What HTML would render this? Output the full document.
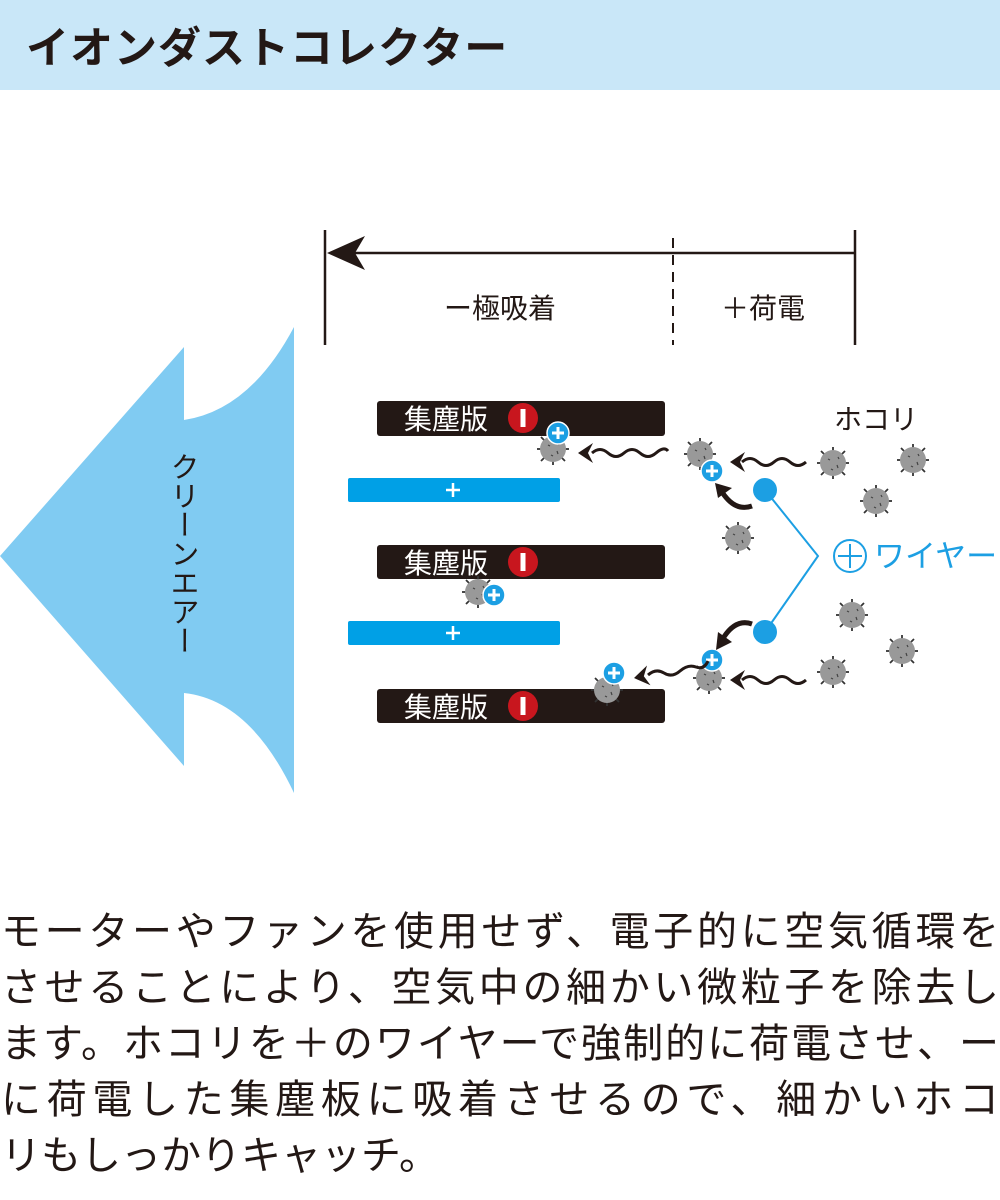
<!DOCTYPE html>
<html><head><meta charset="utf-8"><style>
html,body{margin:0;padding:0;background:#fff;}
body{width:1000px;height:1200px;position:relative;overflow:hidden;font-family:"Liberation Sans","Noto Sans CJK JP",sans-serif;color:#231815;}
.hdr{position:absolute;left:0;top:0;width:1000px;height:90px;background:#c9e7f8;}
.hdr div{position:absolute;left:26px;top:14px;font-size:43px;font-weight:bold;letter-spacing:1px;}
.body{position:absolute;left:1px;top:904px;width:998px;font-size:40px;line-height:56px;}
.body div{text-align:justify;text-align-last:justify;white-space:nowrap;}
.body div.last{text-align-last:left;}
</style></head><body>
<div class="hdr"><div>イオンダストコレクター</div></div>
<svg width="1000" height="900" style="position:absolute;left:0;top:0" xmlns="http://www.w3.org/2000/svg">
<defs>
<g id="dust">
<g stroke="#333" stroke-width="1.8">
<line x1="0" y1="-12" x2="0" y2="-16"/><line x1="9" y1="-9" x2="12" y2="-12"/><line x1="12" y1="0" x2="16" y2="0"/><line x1="9" y1="9" x2="12" y2="12"/><line x1="0" y1="12" x2="0" y2="16"/><line x1="-9" y1="9" x2="-12" y2="12"/><line x1="-12" y1="0" x2="-16" y2="0"/><line x1="-9" y1="-9" x2="-12" y2="-12"/>
</g>
<circle r="13" fill="#999"/>
<g stroke="#444" stroke-width="1.2"><line x1="-5" y1="-4" x2="-3" y2="-3"/><line x1="4" y1="2" x2="5" y2="5"/><line x1="-2" y1="6" x2="0" y2="7"/><line x1="5" y1="-6" x2="6" y2="-4"/></g>
</g>
<g id="plus"><circle r="11" fill="#1c9fe3" stroke="#fff" stroke-width="1.5"/><path d="M-6 0H6M0 -6V6" stroke="#fff" stroke-width="3"/></g>
<g id="minus"><circle r="15" fill="#c8161e"/><rect x="-2.5" y="-9" width="5" height="18" fill="#fff"/></g>
<path id="head" d="M0 0 L15 -10 L10 0 L15 10 Z" fill="#231815"/>
</defs>
<path d="M0 556 L184 347 L184 420 Q250 410 294 327 L294 793 Q250 700 184 693 L184 766 Z" fill="#80cbf2"/>
<text font-size="29" fill="#231815" x="182" y="452" style="writing-mode:vertical-rl">クリーンエアー</text>
<line x1="325" y1="230" x2="325" y2="345" stroke="#231815" stroke-width="2.5"/>
<line x1="855" y1="230" x2="855" y2="345" stroke="#231815" stroke-width="2.5"/>
<line x1="673" y1="238" x2="673" y2="345" stroke="#231815" stroke-width="2" stroke-dasharray="10,7"/>
<line x1="345" y1="253" x2="855" y2="253" stroke="#231815" stroke-width="2.5"/>
<path d="M327 253 L365 236 L355 253 L365 270 Z" fill="#231815"/>
<text x="500" y="318" font-size="28" text-anchor="middle" fill="#231815">ー極吸着</text>
<text x="763" y="318" font-size="28" text-anchor="middle" fill="#231815">＋荷電</text>
<rect x="377" y="401" width="288" height="35" rx="3" fill="#231815"/>
<rect x="377" y="545" width="288" height="34" rx="3" fill="#231815"/>
<rect x="377" y="689" width="288" height="34" rx="3" fill="#231815"/>
<g fill="#fff" font-size="28"><text x="404" y="429">集塵版</text><text x="404" y="573">集塵版</text><text x="404" y="717">集塵版</text></g>
<use href="#minus" x="523" y="418"/><use href="#minus" x="523" y="562"/><use href="#minus" x="523" y="706"/>
<rect x="348" y="478" width="212" height="24" rx="2" fill="#00a0e6"/>
<rect x="348" y="621" width="212" height="24" rx="2" fill="#00a0e6"/>
<path d="M446 490H460M453 483V497M446 633H460M453 626V640" stroke="#fff" stroke-width="2.5"/>
<path d="M765 490 L818 556 L765 632" stroke="#1c9fe3" stroke-width="2" fill="none"/>
<circle cx="765" cy="490" r="12" fill="#1c9fe3"/><circle cx="765" cy="632" r="12" fill="#1c9fe3"/>
<circle cx="850" cy="556" r="16" fill="none" stroke="#1c9fe3" stroke-width="2"/>
<path d="M838 556H862M850 544V568" stroke="#1c9fe3" stroke-width="2"/>
<text x="874" y="567" font-size="31" fill="#1c9fe3">ワイヤー</text>
<text x="834" y="429" font-size="28" fill="#231815">ホコリ</text>
<g>
<use href="#dust" x="553" y="449"/><use href="#dust" x="700" y="454"/><use href="#dust" x="738" y="538"/>
<use href="#dust" x="833" y="463"/><use href="#dust" x="913" y="460"/><use href="#dust" x="876" y="501"/>
<use href="#dust" x="478" y="592"/><use href="#dust" x="852" y="615"/><use href="#dust" x="902" y="651"/>
<use href="#dust" x="709" y="678"/><use href="#dust" x="833" y="672"/><use href="#dust" x="607" y="690"/>
</g>
<use href="#plus" x="558" y="433"/><use href="#plus" x="712" y="471"/><use href="#plus" x="494" y="595"/>
<use href="#plus" x="712" y="660"/><use href="#plus" x="614" y="673"/>
<g stroke="#231815" stroke-width="3" fill="none">
<path d="M592 453 q8 -7 16 0 t16 0 t16 0 t16 0 t12 -2"/>
<path d="M742 462 q8 -7 16 0 t16 0 t16 0 t16 0"/>
<path d="M742 680 q8 -7 16 0 t16 0 t16 0 t16 0"/>
<path d="M648 675 q8 -7 16 -2 t16 -2 t16 -4 t12 -6"/>
</g>
<use href="#head" x="578" y="453"/>
<use href="#head" x="730" y="462"/>
<use href="#head" x="730" y="680"/>
<use href="#head" transform="translate(634,678) rotate(-10)"/>
<path d="M752 506 Q735 512 722 492" stroke="#231815" stroke-width="5" fill="none"/>
<path d="M715 483 L732 488 L718 498 Z" fill="#231815"/>
<path d="M752 624 Q735 618 722 640" stroke="#231815" stroke-width="5" fill="none"/>
<path d="M716 650 L718 632 L732 642 Z" fill="#231815"/>
</svg>
<div class="body">
<div>モーターやファンを使用せず、電子的に空気循環を</div>
<div>させることにより、空気中の細かい微粒子を除去し</div>
<div>ます。ホコリを＋のワイヤーで強制的に荷電させ、ー</div>
<div>に荷電した集塵板に吸着させるので、細かいホコ</div>
<div class="last">リもしっかりキャッチ。</div>
</div>
</body></html>
